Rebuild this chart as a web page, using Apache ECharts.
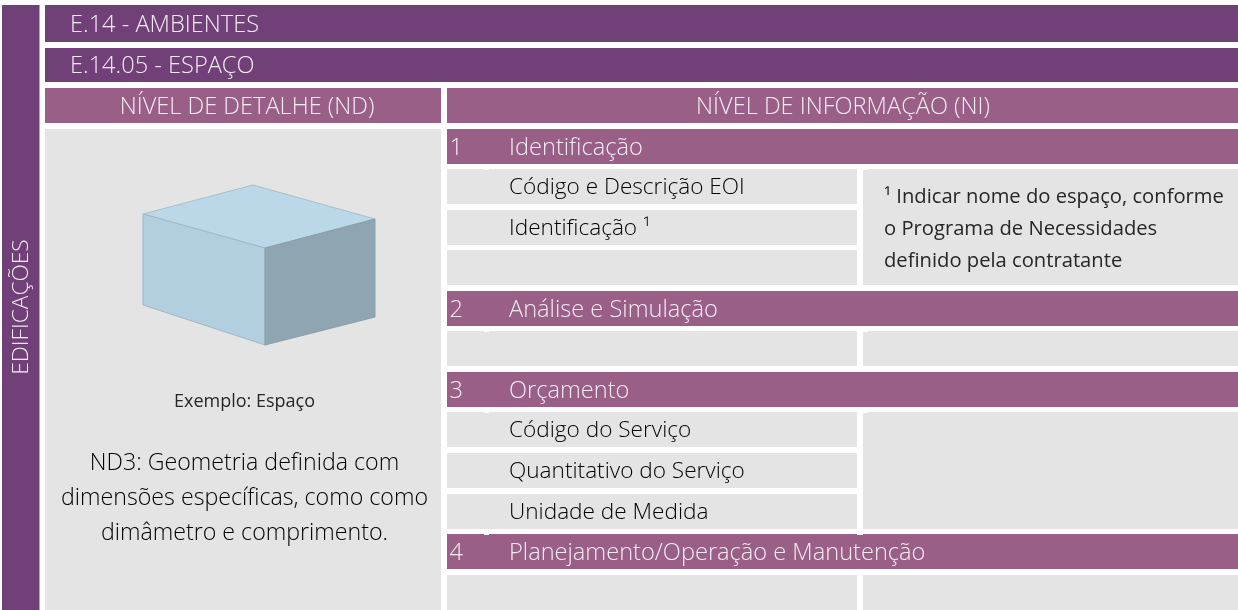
<!DOCTYPE html>
<html><head><meta charset="utf-8">
<style>html,body{margin:0;padding:0;background:#fff}#c{width:1238px;height:610px}</style>
<script src="https://cdn.jsdelivr.net/npm/echarts@6/dist/echarts.min.js"></script></head>
<body><div id="c"></div>
<script>
const sideLabel = 'EDIFICAÇÕES';
const titles = ['E.14 - AMBIENTES', 'E.14.05 - ESPAÇO'];
const columnHeads = ['NÍVEL DE DETALHE (ND)', 'NÍVEL DE INFORMAÇÃO (NI)'];
const sectionNumbers = ['1', '2', '3', '4'];
const sectionNames = ['Identificação', 'Análise e Simulação', 'Orçamento', 'Planejamento/Operação e Manutenção'];
const rowLabels = ['Código e Descrição EOI', 'Identificação ¹', '', '', 'Código do Serviço', 'Quantitativo do Serviço', 'Unidade de Medida', ''];
const noteLines = ['¹ Indicar nome do espaço, conforme', 'o Programa de Necessidades', 'definido pela contratante'];
const exampleCaption = 'Exemplo: Espaço';
const descLines = ['ND3: Geometria definida com', 'dimensões específicas, como como', 'dimâmetro e comprimento.'];

const DARK = '#724079', MID = '#995F87', GREY = '#E4E4E4', INK = '#000000';
const LIGHT = '#f4edf3';
const FONT = '"Open Sans", sans-serif';
const el = [];
const rect = (x, y, w, h, fill) => el.push({type:'rect', shape:{x, y, width:w, height:h}, style:{fill}, silent:true});
const text = (t, x, y, size, fill, align='left', weight=300) => el.push({type:'text', x, y, silent:true,
  style:{text:t, fill, font:`${weight} ${size}px ${FONT}`, textAlign:align, textVerticalAlign:'middle'}});
const poly = (points, fill, stroke) => el.push({type:'polygon', shape:{points}, style:{fill, stroke, lineWidth:1}, silent:true});

rect(2, 5, 37.5, 605, DARK);
el.push({type:'text', x:22, y:307, rotation:Math.PI/2, silent:true,
  style:{text:sideLabel, fill:LIGHT, font:`300 22.7px ${FONT}`, textAlign:'center', textVerticalAlign:'middle'}});

rect(45, 5, 1193, 37, DARK);  text(titles[0], 70, 25, 23.6, LIGHT);
rect(45, 48, 1193, 34, DARK); text(titles[1], 70, 66, 23.6, LIGHT);
rect(45, 88, 396, 35, MID);   text(columnHeads[0], 247, 107, 23.6, LIGHT, 'center');
rect(447, 88, 791, 35, MID);  text(columnHeads[1], 843, 107, 23.6, LIGHT, 'center');

rect(45, 129, 396, 481, GREY);
poly([[253,185],[375,219],[265,248],[143,214]], '#BBD8E9', '#a9bfcc');
poly([[143,214],[265,248],[265,345],[143,305]], '#B1CFDE', '#a0b8c6');
poly([[265,248],[375,219],[375,317],[265,345]], '#8FA5B2', '#8a9eaa');
text(exampleCaption, 244.5, 401.5, 18, '#262626', 'center', 400);
descLines.forEach((l, i) => text(l, 244.5, 463 + i * 35, 23.2, INK, 'center', 300));

const sections = [
  {y:129, rows:[169, 210, 250], rowH:35, idx:0, box:[169, 116]},
  {y:291, rows:[331], rowH:35, idx:3, box:[331, 35]},
  {y:372, rows:[412, 453, 494], rowH:35, idx:4, box:[412, 117]},
  {y:534, rows:[575], rowH:35, idx:7, box:[575, 35]}
];
sections.forEach((s, i) => {
  rect(447, s.y, 791, 35, MID);
  text(sectionNumbers[i], 449.5, s.y + 19, 23.6, LIGHT);
  text(sectionNames[i], 509, s.y + 19, 23.6, LIGHT);
  s.rows.forEach((y, j) => {
    rect(447, y, 410, s.rowH, GREY);
    const label = rowLabels[s.idx + j];
    if (label) text(label, 509, y + 19, 22.6, INK, 'left', 300);
  });
  rect(863, s.box[0], 375, s.box[1], GREY);
  if (i < 3) rect(484, s.rows[0] - 1, 5, 2, '#fff');
  if (i < 3) rect(863, s.rows[0] - 1, 5, 2, '#fff');
});
rect(484, 534, 5, 1, '#fff');
rect(857, 534, 6, 1, '#fff');
noteLines.forEach((l, i) => text(l, 884, 197 + i * 32, 20.2, '#262626', 'left', 400));

const chart = echarts.init(document.getElementById('c'), null, {renderer:'canvas'});
chart.setOption({animation:false, backgroundColor:'#fff', graphic:{elements:el}});
</script></body></html>
